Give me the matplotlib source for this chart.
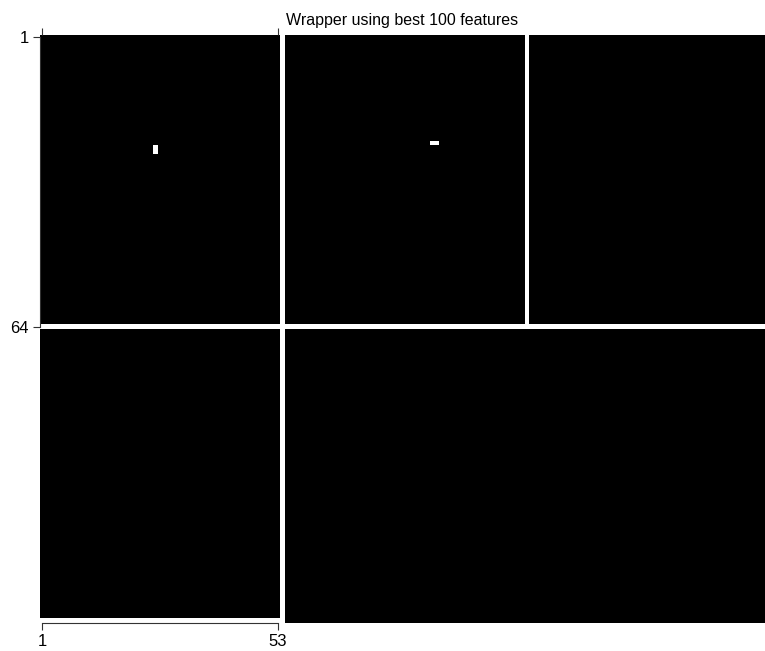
import numpy as np
import matplotlib
matplotlib.use("Agg")
import matplotlib.pyplot as plt

# matrix size (rows x columns)
n_rows = 128
n_cols = 160

# white separator lines: (index, start, end), 1-based inclusive
row_segments = [(64, 1, 160), (128, 1, 53)]
col_segments = [(54, 1, 128), (108, 1, 63)]

# isolated selected cells (1-based)
cell_rows = [25, 26, 24, 24]
cell_cols = [26, 26, 87, 88]

x_ticks = [1, 53]
y_ticks = [1, 64]
title = "Wrapper using best 100 features"

plt.rcParams["font.family"] = ["Liberation Sans", "DejaVu Sans"]

mat = np.zeros((n_rows, n_cols))
for r, c0, c1 in row_segments:
    mat[r - 1, c0 - 1:c1] = 1
for c, r0, r1 in col_segments:
    mat[r0 - 1:r1, c - 1] = 1
for r, c in zip(cell_rows, cell_cols):
    mat[r - 1, c - 1] = 1

W, H = 765, 651
fig = plt.figure(figsize=(W / 100, H / 100), dpi=100)
ax = fig.add_axes([40 / W, (H - 623) / H, (765 - 40) / W, (623 - 35) / H])

ax.imshow(mat, cmap="gray", vmin=0, vmax=1, interpolation="nearest",
          aspect="auto", extent=(0.5, n_cols + 0.5, n_rows + 0.5, 0.5))
ax.set_xlim(0.5, n_cols + 0.5)
ax.set_ylim(n_rows + 0.5, 0.5)

ax.set_xticks(x_ticks)
ax.set_yticks(y_ticks)
ax.tick_params(axis="both", direction="out", length=5, width=0.8,
               color="#333333", labelsize=12, pad=3)
ax.tick_params(axis="x", top=True, labeltop=False)

for side in ["right", "top"]:
    ax.spines[side].set_visible(False)
ax.spines["bottom"].set_bounds(x_ticks[0], x_ticks[-1])
ax.spines["left"].set_bounds(y_ticks[0], y_ticks[-1])
for side in ["bottom", "left"]:
    ax.spines[side].set_linewidth(0.8)
    ax.spines[side].set_color("#333333")

ax.set_title(title, fontsize=11.5, pad=7.5)

fig.savefig("out.png", dpi=100)
